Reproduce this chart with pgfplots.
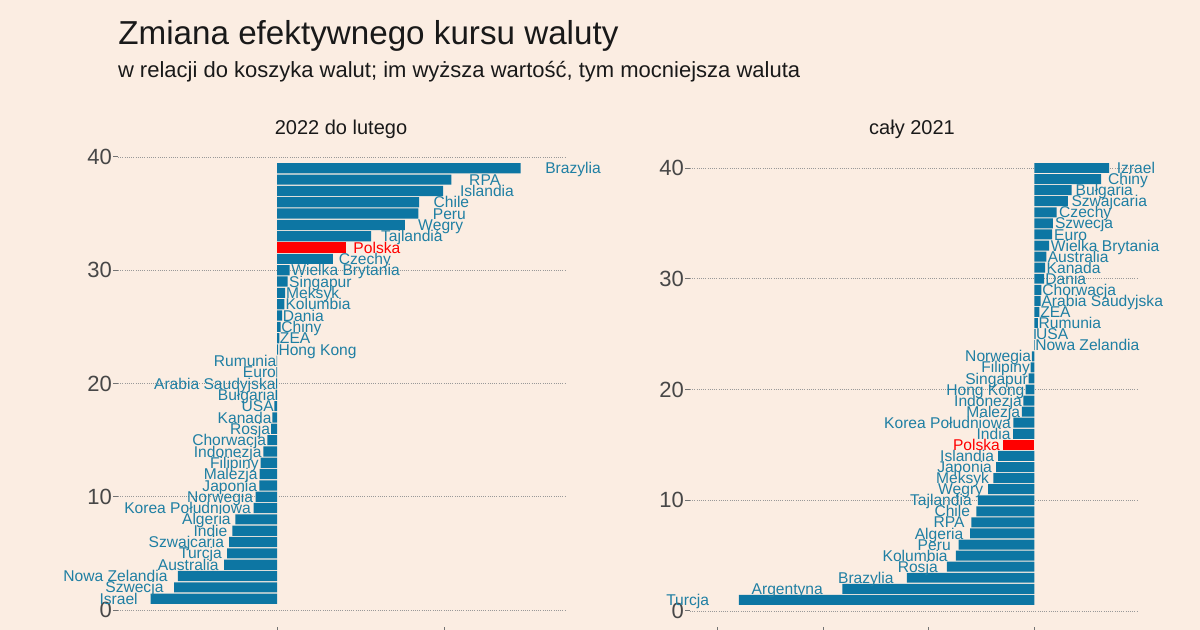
\documentclass[border=0pt]{standalone}
\usepackage{pgfplots}
\pgfplotsset{compat=1.18}
\usepackage{pgfplotstable}
\usepackage{fontspec}
\setmainfont{Liberation Sans}
\definecolor{bg}{HTML}{FBEDE2}
\definecolor{barblue}{HTML}{0D76A3}
\definecolor{labblue}{HTML}{1F7FA3}
\definecolor{polred}{HTML}{FF0000}

% 2022 do lutego (bez Polski)
\pgfplotstableread[col sep=comma,row sep=\\]{
y,v,name\\
1,-3.78,Israel\\
2,-3.08,Szwecja\\
3,-2.97,Nowa Zelandia\\
4,-1.58,Australia\\
5,-1.49,Turcja\\
6,-1.43,Szwajcaria\\
7,-1.34,Indie\\
8,-1.25,Algeria\\
9,-0.70,Korea Południowa\\
10,-0.64,Norwegia\\
11,-0.53,Japonia\\
12,-0.52,Malezja\\
13,-0.49,Filipiny\\
14,-0.41,Indonezja\\
15,-0.29,Chorwacja\\
16,-0.18,Rosja\\
17,-0.14,Kanada\\
18,-0.08,USA\\
19,-0.04,Bułgaria\\
20,-0.03,Arabia Saudyjska\\
21,-0.02,Euro\\
22,-0.01,Rumunia\\
23,0.03,Hong Kong\\
24,0.07,ZEA\\
25,0.11,Chiny\\
26,0.15,Dania\\
27,0.22,Kolumbia\\
28,0.24,Meksyk\\
29,0.32,Singapur\\
30,0.38,Wielka Brytania\\
31,1.67,Czechy\\
33,2.82,Tajlandia\\
34,3.83,Węgry\\
35,4.23,Peru\\
36,4.25,Chile\\
37,4.97,Islandia\\
38,5.22,RPA\\
39,7.29,Brazylia\\
}\Lmain
\pgfplotstableread[col sep=comma,row sep=\\]{
y,v,name\\
32,2.07,Polska\\
}\Lpol

% caly 2021 (bez Polski)
\pgfplotstableread[col sep=comma,row sep=\\]{
y,v,name\\
1,-28.0,Turcja\\
2,-18.2,Argentyna\\
3,-12.1,Brazylia\\
4,-8.3,Rosja\\
5,-7.44,Kolumbia\\
6,-7.18,Peru\\
7,-6.09,Algeria\\
8,-5.98,RPA\\
9,-5.51,Chile\\
10,-5.37,Tajlandia\\
11,-4.39,Węgry\\
12,-3.88,Meksyk\\
13,-3.63,Japonia\\
14,-3.45,Islandia\\
16,-2.03,India\\
17,-2.00,Korea Południowa\\
18,-1.20,Malezja\\
19,-1.05,Indonezja\\
20,-0.83,Hong Kong\\
21,-0.54,Singapur\\
22,-0.36,Filipiny\\
23,-0.25,Norwegia\\
24,0.04,Nowa Zelandia\\
25,0.11,USA\\
26,0.33,Rumunia\\
27,0.47,ZEA\\
28,0.58,Arabia Saudyjska\\
29,0.65,Chorwacja\\
30,0.91,Dania\\
31,1.02,Kanada\\
32,1.12,Australia\\
33,1.38,Wielka Brytania\\
34,1.67,Euro\\
35,1.74,Szwecja\\
36,2.10,Czechy\\
37,3.16,Szwajcaria\\
38,3.52,Bułgaria\\
39,6.31,Chiny\\
40,7.07,Izrael\\
}\Rmain
\pgfplotstableread[col sep=comma,row sep=\\]{
y,v,name\\
15,-2.94,Polska\\
}\Rpol

\pgfplotsset{
  common/.style={
    scale only axis, width=223.5pt, height=243pt,
    clip=false,
    axis line style={draw=none},
    ytick={0,10,20,30,40},
    xticklabels={},
    tick align=outside, major tick length=2.4pt,
    tick pos=left,
    tick style={black!55, line width=0.5pt},
    ymajorgrids=true, xmajorgrids=false,
    y grid style={black!40, line width=0.4pt, dash pattern=on 0.4pt off 0.7pt},
    /pgf/number format/assume math mode=true,
    yticklabel style={font=\fontsize{11}{13}\selectfont, text=black!72, inner sep=0.5pt},
  },
  bars/.style={xbar, bar shift=0pt, bar width=0.9, draw=none, fill=#1},
  labs/.style={draw=none, mark=none, nodes near coords, point meta=explicit symbolic,
    nodes near coords style={anchor=base #1, yshift=-2.8pt, inner sep=0pt, font=\fontsize{7.8}{8}\selectfont}},
}

\begin{document}
\begin{tikzpicture}
\fill[bg] (0pt,0pt) rectangle (600pt,315pt);

\begin{axis}[common, at={(59pt,1.5pt)}, xmin=-4.76, xmax=8.62, ymin=-1.50, ymax=41.41, xtick={0,5}]
\addplot[bars=barblue] table[x=v,y=y]{\Lmain};
\addplot[bars=polred] table[x=v,y=y]{\Lpol};
\addplot[labs=west, restrict x to domain=0:100, nodes near coords style={text=labblue}] table[x expr=1.1*\thisrow{v}, y=y, meta=name]{\Lmain};
\addplot[labs=east, restrict x to domain=-100:0, nodes near coords style={text=labblue}] table[x expr=1.1*\thisrow{v}, y=y, meta=name]{\Lmain};
\addplot[labs=west, nodes near coords style={text=polred}] table[x expr=1.1*\thisrow{v}, y=y, meta=name]{\Lpol};
\end{axis}

\begin{axis}[common, at={(345pt,1.5pt)}, xmin=-32.64, xmax=9.72, ymin=-1.445, ymax=42.44, xtick={-30,-20,-10,0}]
\addplot[bars=barblue] table[x=v,y=y]{\Rmain};
\addplot[bars=polred] table[x=v,y=y]{\Rpol};
\addplot[labs=west, restrict x to domain=0:100, nodes near coords style={text=labblue}] table[x expr=1.1*\thisrow{v}, y=y, meta=name]{\Rmain};
\addplot[labs=east, restrict x to domain=-100:0, nodes near coords style={text=labblue}] table[x expr=1.1*\thisrow{v}, y=y, meta=name]{\Rmain};
\addplot[labs=east, nodes near coords style={text=polred}] table[x expr=1.1*\thisrow{v}, y=y, meta=name]{\Rpol};
\end{axis}

\node[anchor=base west, inner sep=0pt, font=\fontsize{16.6}{20}\selectfont, text=black!90] at (59pt,292.5pt) {Zmiana efektywnego kursu waluty};
\node[anchor=base west, inner sep=0pt, font=\fontsize{11}{13}\selectfont, text=black!90] at (58.8pt,276pt) {w relacji do koszyka walut; im wyższa wartość, tym mocniejsza waluta};
\node[anchor=base, inner sep=0pt, font=\fontsize{10}{12}\selectfont, text=black!90] at (170.5pt,247.5pt) {2022 do lutego};
\node[anchor=base, inner sep=0pt, font=\fontsize{10}{12}\selectfont, text=black!90] at (456pt,247.5pt) {cały 2021};

\pgfresetboundingbox
\path[use as bounding box] (0pt,0pt) rectangle (600pt,315pt);
\end{tikzpicture}
\end{document}
